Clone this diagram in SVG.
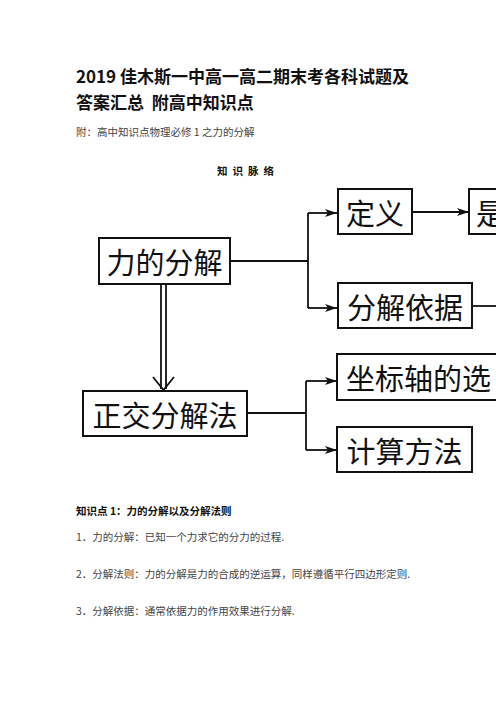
<svg xmlns="http://www.w3.org/2000/svg" width="496" height="702" viewBox="0 0 496 702">
<defs>
<style>
.title{font-family:"Noto Sans CJK SC","Liberation Sans",sans-serif;font-size:17px;font-weight:bold;fill:#111}
.small{font-family:"Noto Sans CJK SC","Liberation Sans",sans-serif;font-size:10.5px;fill:#444}
.bold{font-family:"Noto Sans CJK SC","Liberation Sans",sans-serif;font-size:10.5px;font-weight:bold;fill:#111}
.box{fill:#fff;stroke:#111;stroke-width:2}
.lbl{font-family:"Noto Sans CJK SC",sans-serif;font-size:29px;fill:#111}
.con{fill:none;stroke:#111;stroke-width:1.8}
</style>
<marker id="ah" viewBox="0 0 12 8" refX="12" refY="4" markerWidth="12" markerHeight="8" markerUnits="userSpaceOnUse" orient="auto">
<path d="M0,0 L12,4 L0,8 L3,4 Z" fill="#111"/>
</marker>
</defs>
<rect width="496" height="702" fill="#fff"/>
<text class="title" x="76" y="75" dominant-baseline="central">2019 佳木斯一中高一高二期末考各科试题及</text>
<text class="title" x="76" y="101" dominant-baseline="central" xml:space="preserve">答案汇总  附高中知识点</text>
<text class="small" x="76" y="131" dominant-baseline="central">附：高中知识点物理必修 1 之力的分解</text>
<text class="bold" x="248" y="170" text-anchor="middle" dominant-baseline="central" letter-spacing="5">知识脉络</text>
<g id="connectors">
<path class="con" d="M230,261 H308 M308,213 V308"/>
<path class="con" d="M308,213 H337" marker-end="url(#ah)"/>
<path class="con" d="M308,308 H337" marker-end="url(#ah)"/>
<path class="con" d="M412,212 H469" marker-end="url(#ah)"/>
<path class="con" d="M472,306 H496"/>
<path class="con" d="M247,413 H306 M306,381 V450"/>
<path class="con" d="M306,381 H337" marker-end="url(#ah)"/>
<path class="con" d="M306,450 H337" marker-end="url(#ah)"/>
<path class="con" d="M161,284 V389 M166,284 V389" stroke-width="1.6"/>
<path class="con" d="M153,377 L163.5,390 L174,377" stroke-width="1.6"/>
</g>
<g id="n1"><rect class="box" x="99" y="238" width="131" height="46"/><text class="lbl" x="164.5" y="261" text-anchor="middle" dominant-baseline="central">力的分解</text></g>
<g id="n2"><rect class="box" x="338" y="189" width="74" height="45"/><text class="lbl" x="375" y="211.5" text-anchor="middle" dominant-baseline="central">定义</text></g>
<g id="n3"><rect class="box" x="469" y="189" width="40" height="45"/><text class="lbl" x="476" y="211.5" dominant-baseline="central">是</text></g>
<g id="n4"><rect class="box" x="338" y="283" width="134" height="45"/><text class="lbl" x="405" y="305.5" text-anchor="middle" dominant-baseline="central">分解依据</text></g>
<g id="n5"><rect class="box" x="83" y="391" width="164" height="45"/><text class="lbl" x="165" y="413.5" text-anchor="middle" dominant-baseline="central">正交分解法</text></g>
<g id="n6"><rect class="box" x="337" y="354" width="170" height="46"/><text class="lbl" x="346" y="377" dominant-baseline="central">坐标轴的选</text></g>
<g id="n7"><rect class="box" x="337" y="427" width="135" height="45"/><text class="lbl" x="404.5" y="449.5" text-anchor="middle" dominant-baseline="central">计算方法</text></g>
<text class="bold" x="76" y="510" dominant-baseline="central">知识点 1：力的分解以及分解法则</text>
<text class="small" x="76" y="536" dominant-baseline="central">1．力的分解：已知一个力求它的分力的过程.</text>
<text class="small" x="76" y="573" dominant-baseline="central">2．分解法则：力的分解是力的合成的逆运算，同样遵循平行四边形定则.</text>
<text class="small" x="76" y="610" dominant-baseline="central">3．分解依据：通常依据力的作用效果进行分解.</text>
</svg>
